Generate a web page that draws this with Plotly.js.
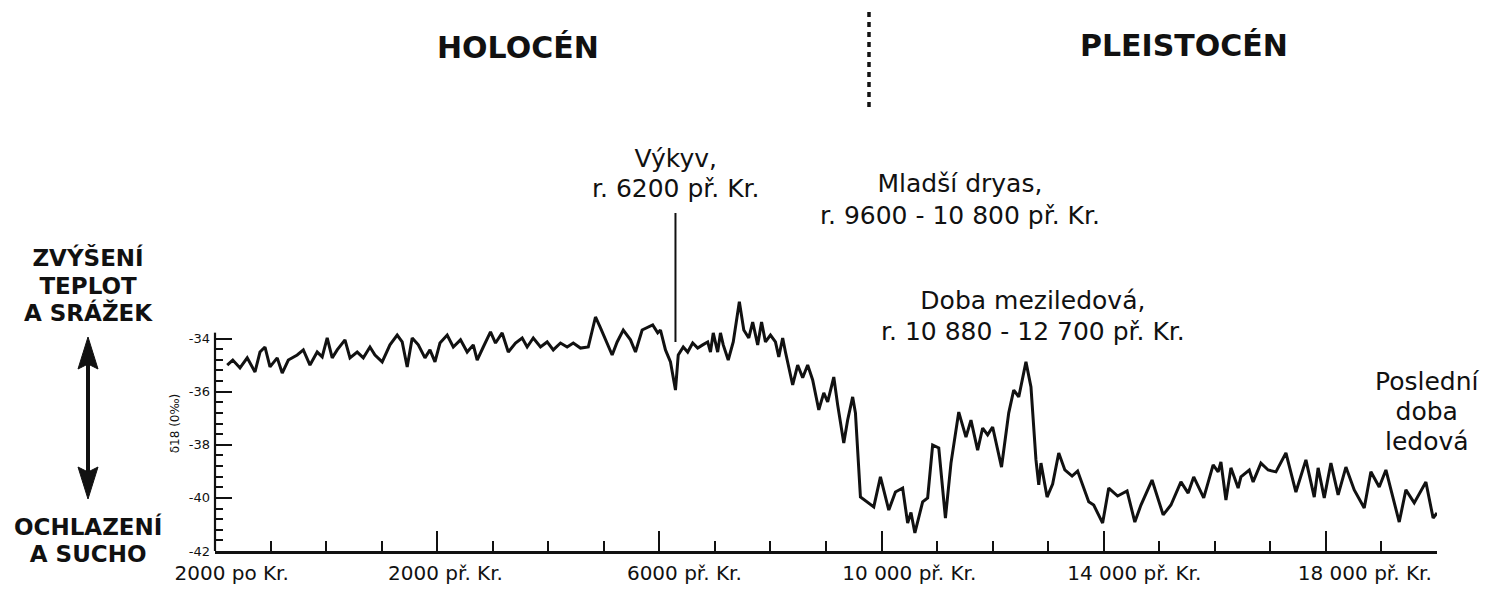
<!DOCTYPE html>
<html><head><meta charset="utf-8">
<script src="https://cdn.plot.ly/plotly-3.0.1.min.js"></script>
<style>html,body{margin:0;padding:0;background:#fff}#chart{width:1491px;height:590px}</style>
</head><body><div id="chart"></div>
<script>
// x = years before 2000 AD ("2000 po Kr." = 0), y = delta 18O
const years = [
  220,320,450,580,720,810,900,990,1120,1210,
  1320,1480,1590,1710,1840,1930,2020,2110,2200,2340,
  2430,2560,2670,2790,2880,3010,3150,3280,3370,3460,
  3550,3660,3780,3870,3960,4050,4180,4290,4420,4540,
  4650,4720,4830,4960,5050,5170,5280,5410,5530,5620,
  5730,5860,5980,6090,6220,6340,6450,6580,6720,6850,
  6940,7030,7150,7240,7350,7480,7570,7690,7880,7970,
  8020,8110,8200,8290,8340,8430,8510,8600,8690,8780,
  8870,8920,8970,9050,9100,9150,9240,9330,9440,9520,
  9610,9680,9770,9840,9910,10000,10090,10150,10220,10270,
  10400,10490,10580,10670,10760,10870,10960,11030,11140,11210,
  11320,11390,11480,11530,11620,11860,11980,12130,12250,12380,
  12470,12530,12600,12740,12830,12920,13030,13150,13250,13390,
  13520,13610,13730,13820,13910,14000,14060,14160,14290,14380,
  14470,14600,14690,14780,14830,14870,14980,15080,15190,15300,
  15430,15530,15730,15820,15980,16090,16250,16420,16560,16670,
  16870,17070,17210,17390,17520,17620,17800,17970,18060,18110,
  18200,18290,18420,18470,18620,18690,18830,18960,19100,19280,
  19460,19640,19790,19860,19970,20090,20220,20360,20510,20690,
  20810,20960,21080,21320,21440,21590,21800,21930,22000
];
const d18O = [
  -35.00,-34.81,-35.11,-34.73,-35.26,-34.51,-34.32,-35.07,-34.73,-35.30,
  -34.81,-34.62,-34.43,-35.00,-34.51,-34.69,-33.98,-34.73,-34.43,-34.05,
  -34.73,-34.51,-34.73,-34.32,-34.62,-34.88,-34.24,-33.87,-34.13,-35.07,
  -33.98,-34.24,-34.73,-34.43,-34.88,-34.17,-33.87,-34.32,-34.05,-34.51,
  -34.24,-34.81,-34.32,-33.75,-34.17,-33.79,-34.51,-34.17,-33.98,-34.32,
  -33.98,-34.32,-34.13,-34.43,-34.17,-34.32,-34.17,-34.36,-34.32,-33.19,
  -33.60,-34.05,-34.62,-34.13,-33.68,-34.05,-34.51,-33.68,-33.49,-33.79,
  -33.68,-34.43,-34.88,-35.94,-34.62,-34.32,-34.51,-34.17,-34.36,-34.24,
  -34.13,-34.51,-33.79,-34.51,-33.79,-34.24,-34.81,-34.13,-32.62,-33.68,
  -33.98,-33.38,-34.24,-33.38,-34.13,-33.87,-34.13,-34.69,-33.98,-34.51,
  -35.75,-35.00,-35.48,-35.00,-35.56,-36.69,-36.05,-36.39,-35.45,-36.50,
  -37.93,-37.07,-36.20,-36.80,-39.97,-40.34,-39.21,-40.46,-39.78,-39.63,
  -40.95,-40.55,-41.32,-40.15,-40.00,-38.01,-38.12,-40.76,-38.69,-36.77,
  -37.71,-37.07,-38.20,-37.37,-37.63,-37.33,-37.90,-38.84,-36.80,-35.94,
  -36.20,-34.88,-35.82,-38.57,-39.51,-38.69,-39.97,-39.48,-38.31,-38.95,
  -39.18,-38.99,-40.15,-40.27,-40.95,-39.63,-39.93,-39.74,-40.91,-40.27,
  -39.33,-40.64,-40.27,-39.40,-39.82,-39.21,-40.00,-38.76,-39.02,-38.65,
  -40.08,-38.87,-39.63,-39.21,-38.95,-39.40,-38.69,-38.95,-39.02,-38.31,
  -39.78,-38.57,-39.97,-38.87,-40.00,-38.69,-39.89,-38.84,-39.70,-40.38,
  -39.02,-39.59,-38.95,-40.91,-39.70,-40.19,-39.40,-40.76,-40.57
];
const xTickLabels = ['2000 po Kr.','2000 př. Kr.','6000 př. Kr.','10 000 př. Kr.','14 000 př. Kr.','18 000 př. Kr.'];
const xLabelPos = [300, 4150, 8450, 12500, 16550, 20700];
const yTickVals = [-42,-40,-38,-36,-34];
const yTickText = ['-42','-40','-38','-36','-34'];
const eventYear = 8290; // Výkyv, r. 6200 př. Kr.

// layout geometry (pixels)
const W = 1491, H = 590, PL = 215, PR = 1437, PT = 296, PB = 551;
const PW = PR - PL, PH = PB - PT;
const px = x => (x - PL) / PW;
const py = y => (PB - y) / PH;
const FONT = '"DejaVu Sans", Verdana, sans-serif';
const INK = '#111';

const minorY = [];
for (let v = -41.6; v < -34.05; v += 0.4) minorY.push(+v.toFixed(1));

// multi-line label: line spacing comes from the base size (1.3 x base), glyphs from the glyph size
function label(lines, cx, cy, spacing, glyph, weight) {
  const text = lines.map(s => `<span style="font-size:${glyph}px">${s}</span>`).join('<br>');
  return {text: text, xref: 'paper', yref: 'paper', x: px(cx), y: py(cy),
    xanchor: 'center', yanchor: 'middle', align: 'center', showarrow: false,
    font: {family: FONT, size: spacing / 1.3, color: INK, weight: weight}};
}

const annotations = [
  label(['HOLOCÉN'], 518, 48, 39, 30, 700),
  label(['PLEISTOCÉN'], 1184, 45, 39, 30, 700),
  label(['Výkyv,', 'r. 6200 př. Kr.'], 676, 173, 30, 25, 400),
  label(['Mladší dryas,', 'r. 9600 - 10 800 př. Kr.'], 960, 199, 32, 25, 400),
  label(['Doba meziledová,', 'r. 10 880 - 12 700 př. Kr.'], 1033, 316, 31, 25, 400),
  label(['Poslední', 'doba', 'ledová'], 1427, 411, 30, 25, 400),
  label(['ZVÝŠENÍ', 'TEPLOT', 'A SRÁŽEK'], 88, 285, 27.5, 23, 700),
  label(['OCHLAZENÍ', 'A SUCHO'], 88, 540, 27.2, 23, 600)
];

const ax = 88;
const shapes = [
  // y axis line
  {type: 'line', xref: 'paper', yref: 'y', x0: 0, x1: 0, y0: -42, y1: -33.78,
   line: {color: INK, width: 2.2}},
  // HOLOCÉN / PLEISTOCÉN divider
  {type: 'line', xref: 'paper', yref: 'paper', x0: px(869), x1: px(869), y0: py(12), y1: py(107),
   line: {color: INK, width: 3.5, dash: '5px,5px'}},
  // event line
  {type: 'line', xref: 'x', yref: 'paper', x0: eventYear, x1: eventYear, y0: py(342), y1: py(213),
   line: {color: INK, width: 2}},
  // double arrow
  {type: 'line', xref: 'paper', yref: 'paper', x0: px(ax), x1: px(ax), y0: py(362), y1: py(474),
   line: {color: INK, width: 4}},
  {type: 'path', xref: 'paper', yref: 'paper',
   path: `M ${px(ax)} ${py(337)} L ${px(ax + 10)} ${py(369)} L ${px(ax)} ${py(364)} L ${px(ax - 10)} ${py(369)} Z`,
   fillcolor: INK, line: {color: INK, width: 1}},
  {type: 'path', xref: 'paper', yref: 'paper',
   path: `M ${px(ax)} ${py(499)} L ${px(ax + 10)} ${py(467)} L ${px(ax)} ${py(472)} L ${px(ax - 10)} ${py(467)} Z`,
   fillcolor: INK, line: {color: INK, width: 1}}
];

const data = [
  {x: years, y: d18O, type: 'scatter', mode: 'lines',
   line: {color: INK, width: 3}, hoverinfo: 'skip', showlegend: false},
  {x: [], y: [], xaxis: 'x2', yaxis: 'y', type: 'scatter', mode: 'lines', showlegend: false}
];

const layout = {
  width: W, height: H,
  margin: {l: PL, r: W - PR, t: PT, b: H - PB, pad: 0},
  paper_bgcolor: '#fff', plot_bgcolor: 'rgba(0,0,0,0)',
  font: {family: FONT, color: INK},
  showlegend: false,
  xaxis: {
    range: [0, 22000], showgrid: false, zeroline: false,
    showline: true, linecolor: INK, linewidth: 2.5,
    tickmode: 'linear', tick0: 0, dtick: 4000,
    ticks: 'inside', ticklen: 20, tickwidth: 2, tickcolor: INK,
    showticklabels: false,
    minor: {tickmode: 'linear', tick0: 0, dtick: 1000, ticks: 'inside', ticklen: 10, tickwidth: 2, tickcolor: INK}
  },
  xaxis2: {
    overlaying: 'x', anchor: 'y', side: 'bottom', range: [0, 22000],
    showgrid: false, zeroline: false, showline: false, ticks: '',
    tickmode: 'array', tickvals: xLabelPos, ticktext: xTickLabels,
    tickfont: {family: FONT, size: 20, color: INK}, ticklabelstandoff: 8
  },
  yaxis: {
    range: [-42, -32.4], showgrid: false, zeroline: false, showline: false,
    tickmode: 'array', tickvals: yTickVals, ticktext: yTickText,
    ticks: 'inside', ticklen: 17, tickwidth: 2, tickcolor: INK,
    tickfont: {family: FONT, size: 13, color: INK}, ticklabelstandoff: 4,
    minor: {tickmode: 'array', tickvals: minorY, ticks: 'inside', ticklen: 8, tickwidth: 2, tickcolor: INK},
    title: {text: 'δ18 (0‰)', font: {family: FONT, size: 12, color: INK}, standoff: 6}
  },
  annotations: annotations,
  shapes: shapes
};

Plotly.newPlot('chart', data, layout, {displayModeBar: false, staticPlot: true});
</script>
</body></html>
